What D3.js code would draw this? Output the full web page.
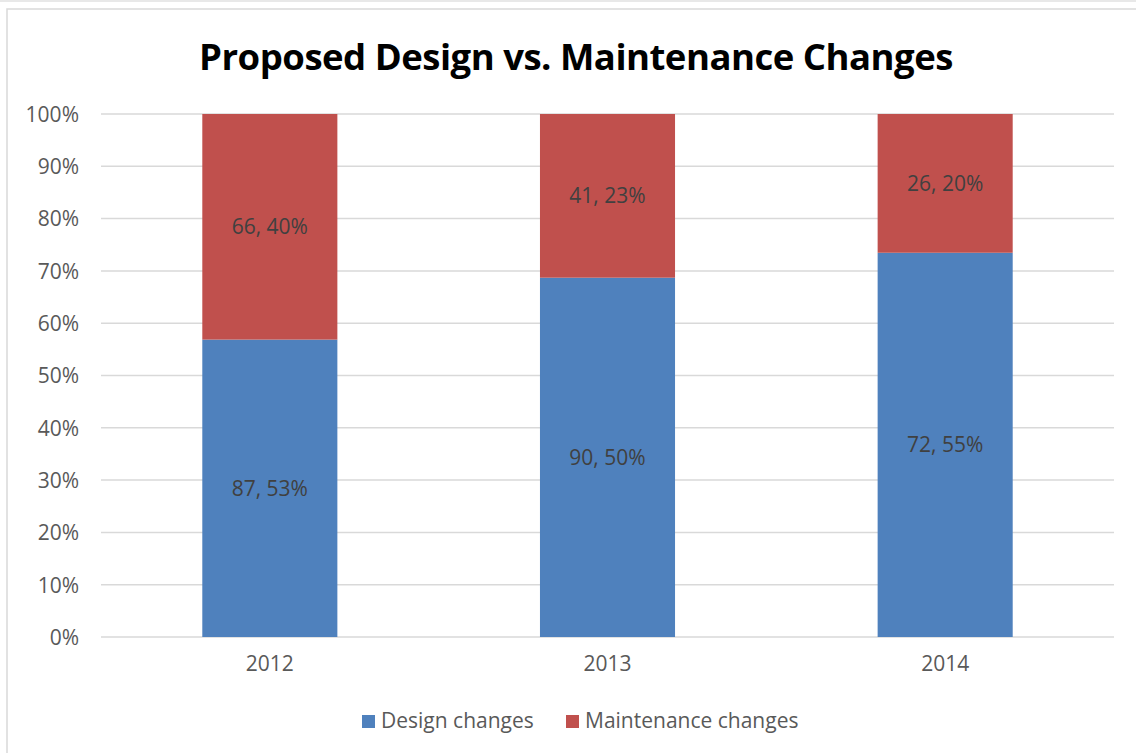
<!DOCTYPE html>
<html>
<head>
<meta charset="utf-8">
<script src="https://cdn.jsdelivr.net/npm/d3@7"></script>
<style>
  body { margin: 0; background: #fff; }
  text { font-family: "Open Sans", "Noto Sans", sans-serif; }
</style>
</head>
<body>
<div id="chart"></div>
<script>
// data
let years = ['2012', '2013', '2014']
let designCounts = [87, 90, 72]
let maintenanceCounts = [66, 41, 26]
let designLabels = ['87, 53%', '90, 50%', '72, 55%']
let maintenanceLabels = ['66, 40%', '41, 23%', '26, 20%']
let seriesNames = ['Design changes', 'Maintenance changes']
let colors = ['#4f81bd', '#c0504d']
let yTicks = [0, 0.1, 0.2, 0.3, 0.4, 0.5, 0.6, 0.7, 0.8, 0.9, 1]

let W = 1136, H = 753
let plot = { left: 101, right: 1114, top: 114, bottom: 637 }
let fontSize = '21px'

let svg = d3.select('#chart')
    .append('svg')
    .attr('width', W)
    .attr('height', H)

// outer chart border
svg.append('line').attr('x1', 0).attr('x2', W).attr('y1', 1).attr('y2', 1)
    .attr('stroke', '#e0e0e0').attr('stroke-width', 1.5)
svg.append('rect')
    .attr('x', 7).attr('y', 9)
    .attr('width', W + 20).attr('height', H + 20)
    .attr('fill', 'none')
    .attr('stroke', '#d9d9d9')
    .attr('stroke-width', 1.5)

let x = d3.scaleBand()
    .domain(years)
    .range([plot.left, plot.right])
    .padding(0)

let y = d3.scaleLinear()
    .domain([0, 1])
    .range([plot.bottom, plot.top])

let barW = x.bandwidth() * 0.4

// gridlines
svg.append('g')
    .selectAll('line')
    .data(yTicks)
    .join('line')
    .attr('x1', plot.left)
    .attr('x2', plot.right)
    .attr('y1', d => y(d))
    .attr('y2', d => y(d))
    .attr('stroke', '#d9d9d9')
    .attr('stroke-width', 1.5)

// y axis labels
let yAxis = svg.append('g')
    .attr('transform', `translate(${plot.left - 22}, 0)`)
    .call(d3.axisLeft(y).tickValues(yTicks).tickFormat(d3.format('.0%')).tickSize(0).tickPadding(0))
yAxis.select('.domain').remove()
yAxis.selectAll('text')
    .attr('fill', '#595959')
    .style('font-size', fontSize)
    .attr('dy', '0.35em')

// x axis labels
let xAxis = svg.append('g')
    .attr('transform', `translate(0, ${plot.bottom})`)
    .call(d3.axisBottom(x).tickSize(0).tickPadding(19))
xAxis.select('.domain').remove()
xAxis.selectAll('text')
    .attr('fill', '#595959')
    .style('font-size', fontSize)

// stacked to 100%
let rows = years.map((yr, i) => {
    let total = designCounts[i] + maintenanceCounts[i]
    return {
        year: yr,
        design: designCounts[i] / total,
        maintenance: maintenanceCounts[i] / total,
        labels: [designLabels[i], maintenanceLabels[i]]
    }
})
let stack = d3.stack().keys(['design', 'maintenance'])(rows)

let groups = svg.selectAll('.series')
    .data(stack)
    .join('g')
    .attr('class', 'series')
    .attr('fill', (d, i) => colors[i])

groups.selectAll('rect')
    .data(d => d)
    .join('rect')
    .attr('x', d => x(d.data.year) + (x.bandwidth() - barW) / 2)
    .attr('y', d => y(d[1]))
    .attr('width', barW)
    .attr('height', d => y(d[0]) - y(d[1]))

stack.forEach((s, si) => {
    svg.append('g')
        .selectAll('text')
        .data(s)
        .join('text')
        .attr('x', d => x(d.data.year) + x.bandwidth() / 2)
        .attr('y', d => (y(d[0]) + y(d[1])) / 2)
        .attr('dy', '0.35em')
        .attr('text-anchor', 'middle')
        .attr('fill', '#404040')
        .style('font-size', fontSize)
        .text(d => d.data.labels[si])
})

// title
let title = svg.append('text')
    .attr('x', 576)
    .attr('y', 70)
    .attr('text-anchor', 'middle')
    .attr('fill', '#000')
    .style('font-size', '36px')
    .style('font-weight', 'bold')
    .style('letter-spacing', '-0.5px')
    .text('Proposed Design vs. Maintenance Changes')
let tw = title.node().getComputedTextLength()
title.style('font-size', (36 * 753 / tw).toFixed(1) + 'px')

// legend
let legendX = [362, 566]
let legend = svg.append('g')
    .selectAll('g')
    .data(seriesNames)
    .join('g')
    .attr('transform', (d, i) => `translate(${legendX[i]}, 721)`)
legend.append('rect')
    .attr('x', 0).attr('y', -6)
    .attr('width', 13).attr('height', 13)
    .attr('fill', (d, i) => colors[i])
legend.append('text')
    .attr('x', 19)
    .attr('dy', '0.35em')
    .attr('fill', '#595959')
    .style('font-size', fontSize)
    .text(d => d)
</script>
</body>
</html>
